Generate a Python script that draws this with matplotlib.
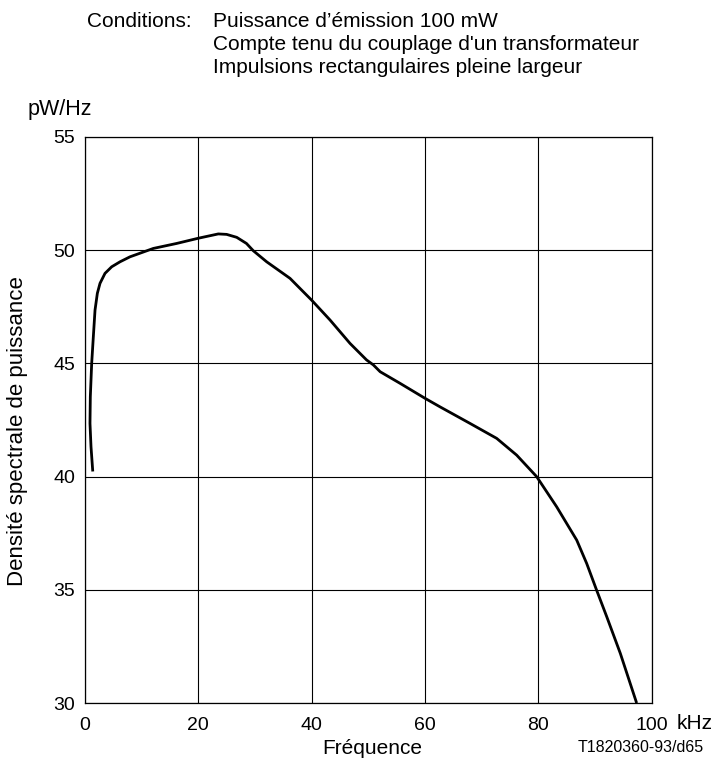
import matplotlib
matplotlib.use("Agg")
import matplotlib.pyplot as plt

plt.rcParams['font.family'] = ['Liberation Sans', 'DejaVu Sans']

freq_khz = [1.354, 1.06, 0.88, 0.94, 1.18, 1.47, 1.77, 2.18, 2.65, 3.53, 4.71, 6.18,
            7.94, 12.06, 16.18, 20.0, 23.53, 25.0, 26.78, 28.5, 29.7, 32.07, 36.19,
            38.25, 40.0, 43.26, 46.78, 49.7, 50.9, 52.1, 55.6, 60.0, 62.67, 67.96,
            72.67, 76.2, 79.73, 83.26, 86.8, 88.56, 90.3, 92.1, 94.5, 97.3]
density = [40.29, 41.32, 42.35, 43.53, 45.0, 46.17, 47.35, 48.09, 48.53, 48.97, 49.26,
           49.48, 49.70, 50.07, 50.29, 50.52, 50.71, 50.69, 50.56, 50.29, 49.97, 49.48,
           48.75, 48.23, 47.79, 46.91, 45.88, 45.15, 44.93, 44.63, 44.12, 43.46, 43.08,
           42.35, 41.69, 40.95, 40.0, 38.67, 37.2, 36.17, 35.0, 33.82, 32.2, 30.07]

x_ticks = [0, 20, 40, 60, 80, 100]
y_ticks = [30, 35, 40, 45, 50, 55]
conditions = ["Puissance d\u2019émission 100 mW",
              "Compte tenu du couplage d'un transformateur",
              "Impulsions rectangulaires pleine largeur"]

W, H = 715, 762
fig = plt.figure(figsize=(W/100, H/100), dpi=100)
L, R, T, B = 85, 651.5, 136.7, 703.3
ax = fig.add_axes([L/W, 1-B/H, (R-L)/W, (B-T)/H])

ax.plot(freq_khz, density, color='black', lw=2.0, solid_joinstyle='round')
ax.set_xlim(0, 100)
ax.set_ylim(30, 55)
ax.set_xticks(x_ticks)
ax.set_yticks(y_ticks)
ax.grid(True, color='black', lw=0.8)
ax.set_axisbelow(True)
for s in ax.spines.values():
    s.set_linewidth(0.9)
    s.set_color('black')
ax.tick_params(length=0, labelsize=14)
ax.tick_params(axis='x', pad=10)
ax.tick_params(axis='y', pad=7)

ax.set_xlabel("Fréquence", fontsize=15, va='center')
ax.xaxis.set_label_coords((372-L)/(R-L), -(748-B)/(B-T))
ax.set_ylabel("Densité spectrale de puissance", fontsize=16, va='center')
ax.yaxis.set_label_coords((18-L)/(R-L), (B-431)/(B-T))

fig.text(677/W, 1-723.5/H, "kHz", fontsize=15, ha='left', va='center')
fig.text(87/W, 1-26.7/H, "Conditions:", fontsize=15, ha='left', va='baseline')
for i, line in enumerate(conditions):
    fig.text(213/W, 1-(26.7+23.3*i)/H, line, fontsize=15, ha='left', va='baseline')
fig.text(28/W, 1-115/H, "pW/Hz", fontsize=15.5, ha='left', va='baseline')
fig.text(704/W, 1-748/H, "T1820360-93/d65", fontsize=11.5, ha='right', va='center')

fig.savefig("out.png", dpi=100)
